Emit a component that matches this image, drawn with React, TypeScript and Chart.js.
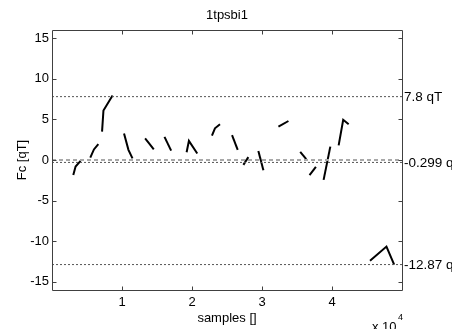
import React, { useEffect, useRef } from "react";
import { Chart, registerables } from "chart.js";

Chart.register(...registerables);

// Data segments (flat), segmentStarts marks the index where each segment begins
const sampleX = [
  3040, 3370, 4080,
  5470, 5990, 6620,
  7150, 7350, 8650,
  10290, 10920, 11500,
  13300, 13870, 14540,
  16070, 17020,
  19230, 19560, 20750,
  22850, 23280, 24000,
  25720, 26530,
  27340, 28050,
  29480, 30200,
  32350, 33780,
  35460, 36320,
  36790, 37700,
  38800, 39760,
  40950, 41600, 42380,
  45430, 47780, 48880,
];
const fcQT = [
  -1.85, -0.8, -0.1,
  0.3, 1.3, 1.95,
  3.5, 6.1, 7.95,
  3.25, 1.25, 0.2,
  2.65, 2.05, 1.3,
  2.85, 1.15,
  0.95, 2.35, 0.8,
  3.0, 3.9, 4.4,
  3.05, 1.25,
  -0.6, 0.35,
  1.1, -1.25,
  4.1, 4.8,
  1.0, 0.1,
  -1.85, -0.85,
  -2.45, 1.65,
  1.8, 4.95, 4.4,
  -12.4, -10.65, -12.88,
];
const segmentStarts = [0, 3, 6, 9, 12, 15, 17, 20, 23, 25, 27, 29, 31, 33, 35, 37, 40, 43];

const refLevels = [7.8, -0.299, -12.87];
const refLabels = ["7.8 qT", "-0.299 qT", "-12.87 qT"];
const zeroLevel = 0;

const xTicks = [10000, 20000, 30000, 40000];
const xTickLabels = ["1", "2", "3", "4"];
const yTicks = [-15, -10, -5, 0, 5, 10, 15];
const yTickLabels = ["-15", "-10", "-5", "0", "5", "10", "15"];

const titleText = "1tpsbi1";
const xLabel = "samples []";
const yLabel = "Fc [qT]";

const X_MIN = 0;
const X_MAX = 50000;
const Y_MIN = -16;
const Y_MAX = 16;

const FONT = '13px "Liberation Sans", Arial, sans-serif';

const decorPlugin = {
  id: "matlabDecor",
  afterDatasetsDraw(chart: any) {
    const { ctx, chartArea, scales } = chart;
    const xs = scales.x;
    const ys = scales.y;
    const L = Math.round(chartArea.left) + 0.5;
    const R = Math.round(chartArea.right) + 0.5;
    const T = Math.round(chartArea.top) + 0.5;
    const B = Math.round(chartArea.bottom) + 0.5;
    ctx.save();
    ctx.strokeStyle = "#404040";
    ctx.lineWidth = 1;
    ctx.beginPath();
    ctx.rect(L, T, R - L, B - T);
    ctx.stroke();
    const tl = 4;
    ctx.beginPath();
    xTicks.forEach((v) => {
      const px = Math.round(xs.getPixelForValue(v)) + 0.5;
      ctx.moveTo(px, B);
      ctx.lineTo(px, B - tl);
      ctx.moveTo(px, T);
      ctx.lineTo(px, T + tl);
    });
    yTicks.forEach((v) => {
      const py = Math.round(ys.getPixelForValue(v)) + 0.5;
      ctx.moveTo(L, py);
      ctx.lineTo(L + tl, py);
      ctx.moveTo(R, py);
      ctx.lineTo(R - tl, py);
    });
    ctx.stroke();
    ctx.restore();
  },
  afterDraw(chart: any) {
    const { ctx, chartArea, scales } = chart;
    const xs = scales.x;
    const ys = scales.y;
    ctx.save();
    ctx.fillStyle = "#000";
    ctx.font = FONT;
    // y tick labels
    ctx.textAlign = "right";
    ctx.textBaseline = "middle";
    yTicks.forEach((v, i) => {
      ctx.fillText(yTickLabels[i], chartArea.left - 3, ys.getPixelForValue(v));
    });
    // x tick labels
    ctx.textAlign = "center";
    xTicks.forEach((v, i) => {
      ctx.fillText(xTickLabels[i], xs.getPixelForValue(v), chartArea.bottom + 12);
    });
    // right reference labels
    ctx.textAlign = "left";
    ctx.font = '13.5px "Liberation Sans", Arial, sans-serif';
    refLevels.forEach((v, i) => {
      ctx.fillText(refLabels[i], chartArea.right + 2, ys.getPixelForValue(v) + 1);
    });
    ctx.font = FONT;
    // title
    const cx = (chartArea.left + chartArea.right) / 2;
    ctx.textAlign = "center";
    ctx.fillText(titleText, cx, 15);
    // x label
    ctx.fillText(xLabel, cx, chartArea.bottom + 28);
    // multiplier
    ctx.textAlign = "left";
    ctx.fillText("x 10", chartArea.right - 30, chartArea.bottom + 37);
    ctx.font = '9px "Liberation Sans", Arial, sans-serif';
    ctx.fillText("4", chartArea.right - 4, chartArea.bottom + 28);
    // y label
    ctx.font = FONT;
    ctx.translate(22, (chartArea.top + chartArea.bottom) / 2);
    ctx.rotate(-Math.PI / 2);
    ctx.textAlign = "center";
    ctx.fillText(yLabel, 0, 0);
    ctx.restore();
  },
};

export default function App() {
  const canvasRef = useRef<HTMLCanvasElement | null>(null);

  useEffect(() => {
    document.body.style.margin = "0";
    const canvas = canvasRef.current;
    if (!canvas) return;

    const datasets: any[] = [];
    // reference lines
    datasets.push({
      data: [
        { x: X_MIN, y: zeroLevel },
        { x: X_MAX, y: zeroLevel },
      ],
      borderColor: "#a8a8a8",
      borderWidth: 2,
      borderDash: [4, 3],
      pointRadius: 0,
      fill: false,
    });
    refLevels.forEach((lvl) => {
      datasets.push({
        data: [
          { x: X_MIN, y: lvl },
          { x: X_MAX, y: lvl },
        ],
        borderColor: "#555555",
        borderWidth: 1,
        borderDash: [2, 2],
        pointRadius: 0,
        fill: false,
      });
    });
    segmentStarts.forEach((start, si) => {
      const end = si + 1 < segmentStarts.length ? segmentStarts[si + 1] : sampleX.length;
      if (end <= start) return;
      const pts = [];
      for (let i = start; i < end; i++) pts.push({ x: sampleX[i], y: fcQT[i] });
      datasets.push({
        data: pts,
        borderColor: "#000000",
        borderWidth: 2,
        pointRadius: 0,
        fill: false,
        tension: 0,
      });
    });

    const chart = new Chart(canvas, {
      type: "line",
      data: { datasets },
      options: {
        animation: false,
        responsive: false,
        devicePixelRatio: 1,
        layout: { padding: { left: 52, right: 50, top: 30, bottom: 39 } },
        plugins: { legend: { display: false }, tooltip: { enabled: false }, title: { display: false } },
        scales: {
          x: { type: "linear", min: X_MIN, max: X_MAX, display: false },
          y: { type: "linear", min: Y_MIN, max: Y_MAX, display: false },
        },
      },
      plugins: [decorPlugin],
    });
    return () => chart.destroy();
  }, []);

  return (
    <div style={{ width: 452, height: 329, background: "#fff" }}>
      <canvas ref={canvasRef} width={452} height={329} style={{ display: "block" }} />
    </div>
  );
}
